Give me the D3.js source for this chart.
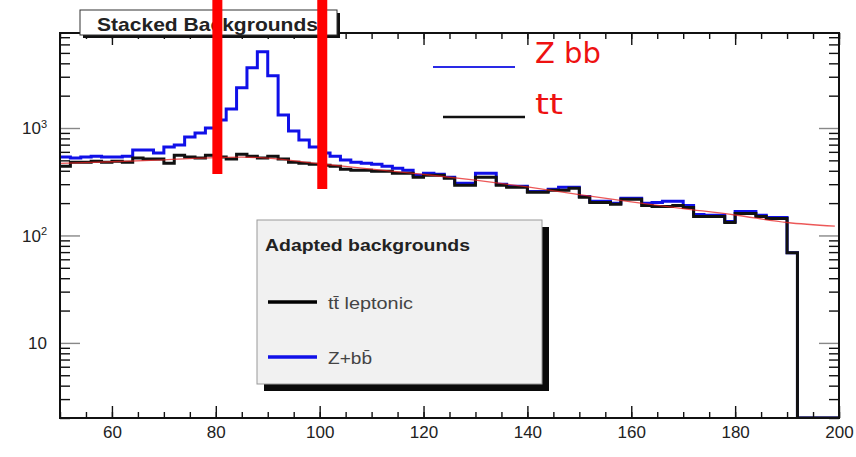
<!DOCTYPE html>
<html>
<head>
<meta charset="utf-8">
<script src="https://cdn.jsdelivr.net/npm/d3@7"></script>
<style>
  html, body { margin: 0; padding: 0; background: #fff; }
  svg { display: block; }
  .axis text { font-family: "Liberation Sans", Arial, sans-serif; fill: #222; }
</style>
</head>
<body>
<svg id="chart" width="856" height="457"></svg>
<script>
// Invariant-mass histogram, 2 GeV bins from 50 to 200
const binLow = d3.range(50, 200, 2);

// t tbar leptonic background per bin
const ttCounts = [
  440, 481, 481, 490, 481, 490, 481, 525, 514, 514,
  471, 559, 536, 525, 559, 536, 514, 571, 547, 525,
  547, 514, 481, 471, 461, 451, 441, 414, 405, 405,
  396, 396, 380, 380, 349, 364, 364, 341, 293, 293,
  349, 349, 293, 281, 281, 252, 252, 263, 263, 275,
  227, 203, 203, 195, 217, 217, 190, 186, 186, 190,
  182, 150, 150, 150, 132, 160, 160, 150, 144, 144,
  69, 0, 0, 0, 0
];

// Z + b bbar background per bin (stacked on top of t tbar)
const zbbCounts = [
  96, 44, 55, 57, 55, 46, 66, 98, 109, 70,
  193, 135, 288, 372, 441, 652, 991, 1795, 3093, 4605,
  2513, 809, 456, 301, 203, 133, 106, 89, 76, 66,
  65, 45, 42, 25, 15, 16, 8, 8, 13, 13,
  31, 31, 6, 6, 6, 5, 5, 6, 18, 6,
  4, 5, 5, 4, 5, 5, 9, 17, 22, 18,
  8, 7, 4, 4, 3, 7, 7, 4, 3, 3,
  0, 0, 0, 0, 0
];

// Fitted t tbar shape (sampled)
const fitMass  = [50, 60, 70, 80, 85, 90, 100, 110, 120, 130, 140, 150, 160, 170, 180, 190, 199.2];
const fitValue = [468, 485, 505, 530, 535, 525, 465, 415, 370, 327, 283, 240, 205, 178, 155, 132, 122];

// Axis ticks
const xMajorTicks = [60, 80, 100, 120, 140, 160, 180, 200];
const xMinorTicks = d3.range(50, 201, 5);
const yMajorTicks = [10, 100, 1000];
const yMinorTicks = [2,3,4,5,6,7,8,9, 20,30,40,50,60,70,80,90, 200,300,400,500,600,700,800,900, 2000,3000,4000,5000,6000,7000];

// Mass window markers
const windowEdges = [80.3, 100.5];
const windowTops = [174, 189];

const legendEntries = [
  { label: "tt\u0304 leptonic", color: "#000", len: 85 },
  { label: "Z+bb\u0304", color: "#1010e8", len: 44 }
];

const svg = d3.select("#chart");
const plot = { left: 60, right: 839, top: 33, bottom: 418 };

const x = d3.scaleLinear().domain([50, 200]).range([plot.left, plot.right]);
const yMin = 2, yMax = 7660;
const y = d3.scaleLog().domain([yMin, yMax]).range([plot.bottom, plot.top]);
const yc = v => y(Math.max(v, yMin));

// stacked table
const table = binLow.map((m, i) => ({ m, tt: ttCounts[i], zbb: zbbCounts[i] }));
const stacked = d3.stack().keys(["tt", "zbb"])(table);

function stepPoints(vals) {
  const pts = binLow.map((m, i) => [m, vals[i]]);
  pts.push([200, vals[vals.length - 1]]);
  return pts;
}
const step = d3.line().x(d => x(d[0])).y(d => yc(d[1])).curve(d3.curveStepAfter);

const g = svg.append("g");
g.append("defs").append("clipPath").attr("id", "plotclip")
  .append("rect").attr("x", plot.left).attr("y", plot.top)
  .attr("width", plot.right - plot.left).attr("height", plot.bottom - plot.top);

const data = g.append("g").attr("clip-path", "url(#plotclip)");

// stack total (Z+bbbar on top)
data.append("path")
  .attr("d", step(stepPoints(stacked[1].map(d => d[1]))))
  .attr("fill", "none").attr("stroke", "#1010e8").attr("stroke-width", 3);

// t tbar
data.append("path")
  .attr("d", step(stepPoints(stacked[0].map(d => d[1]))))
  .attr("fill", "none").attr("stroke", "#111").attr("stroke-width", 3);

// fit curve
data.append("path")
  .attr("d", d3.line().x(d => x(d[0])).y(d => y(d[1])).curve(d3.curveMonotoneX)(fitMass.map((m, i) => [m, fitValue[i]])))
  .attr("fill", "none").attr("stroke", "#e62020").attr("stroke-width", 1.3).attr("opacity", 0.75);

// axes with inward ticks
function styleAxis(sel) {
  sel.select(".domain").remove();
  sel.selectAll(".tick line").attr("stroke", "#111").attr("stroke-width", 1.4);
}
g.append("g").attr("class", "axis").attr("transform", `translate(0,${plot.bottom})`)
  .call(d3.axisBottom(x).tickValues(xMinorTicks).tickSize(-6).tickFormat(""))
  .call(styleAxis);
g.append("g").attr("class", "axis").attr("transform", `translate(0,${plot.bottom})`)
  .call(d3.axisBottom(x).tickValues(xMajorTicks).tickSize(-12).tickPadding(7).tickFormat(d3.format("d")))
  .call(styleAxis)
  .selectAll("text").attr("font-size", 17).attr("dy", "0.75em");
g.append("g").attr("class", "axis").attr("transform", `translate(0,${plot.top})`)
  .call(d3.axisTop(x).tickValues(xMinorTicks).tickSize(-6).tickFormat(""))
  .call(styleAxis);
g.append("g").attr("class", "axis").attr("transform", `translate(0,${plot.top})`)
  .call(d3.axisTop(x).tickValues(xMajorTicks).tickSize(-12).tickFormat(""))
  .call(styleAxis);

g.append("g").attr("class", "axis").attr("transform", `translate(${plot.left},0)`)
  .call(d3.axisLeft(y).tickValues(yMinorTicks).tickSize(-10).tickFormat(""))
  .call(styleAxis);
const yLab = g.append("g").attr("class", "axis").attr("transform", `translate(${plot.left},0)`)
  .call(d3.axisLeft(y).tickValues(yMajorTicks).tickSize(-20).tickPadding(13).tickFormat(""))
  .call(styleAxis);
yLab.selectAll(".tick line").attr("stroke", "#888");
yLab.selectAll(".tick").each(function(d) {
  const t = d3.select(this).select("text").attr("font-size", 17).attr("dy", "0.35em");
  const exp = Math.round(Math.log10(d));
  if (exp === 1) {
    t.text("10");
  } else {
    t.append("tspan").text("10");
    t.append("tspan").text(exp).attr("font-size", 11).attr("dy", "-0.6em");
  }
});
g.append("g").attr("class", "axis").attr("transform", `translate(${plot.right},0)`)
  .call(d3.axisRight(y).tickValues(yMinorTicks).tickSize(-10).tickFormat(""))
  .call(styleAxis);
g.append("g").attr("class", "axis").attr("transform", `translate(${plot.right},0)`)
  .call(d3.axisRight(y).tickValues(yMajorTicks).tickSize(-20).tickFormat(""))
  .call(styleAxis).selectAll(".tick line").attr("stroke", "#888");

// frame
g.append("rect").attr("x", plot.left).attr("y", plot.top)
  .attr("width", plot.right - plot.left).attr("height", plot.bottom - plot.top)
  .attr("fill", "none").attr("stroke", "#111").attr("stroke-width", 2);

// title box
const tb = { x: 80, y: 10, w: 257, h: 25 };
g.append("rect").attr("x", tb.x + 3).attr("y", tb.y + 3).attr("width", tb.w).attr("height", tb.h).attr("fill", "#111");
g.append("rect").attr("x", tb.x).attr("y", tb.y).attr("width", tb.w).attr("height", tb.h)
  .attr("fill", "#fff").attr("stroke", "#333").attr("stroke-width", 1);
g.append("text").attr("x", 97).attr("y", 31)
  .attr("font-family", "Liberation Sans, Arial, sans-serif").attr("font-weight", "bold")
  .attr("font-size", 19).attr("fill", "#222")
  .attr("textLength", 221).attr("lengthAdjust", "spacingAndGlyphs")
  .text("Stacked Backgrounds");

// legend box
const lb = { x: 257, y: 220, w: 285, h: 164 };
g.append("rect").attr("x", lb.x + 7).attr("y", lb.y + 7).attr("width", lb.w).attr("height", lb.h).attr("fill", "#0a0a0a");
g.append("rect").attr("x", lb.x).attr("y", lb.y).attr("width", lb.w).attr("height", lb.h)
  .attr("fill", "#f1f1f1").attr("stroke", "#999").attr("stroke-width", 1);
g.append("text").attr("x", 265).attr("y", 251)
  .attr("font-family", "Liberation Sans, Arial, sans-serif").attr("font-weight", "bold")
  .attr("font-size", 17).attr("fill", "#222")
  .attr("textLength", 205).attr("lengthAdjust", "spacingAndGlyphs")
  .text("Adapted backgrounds");
legendEntries.forEach((e, i) => {
  const ly = 302 + i * 55;
  g.append("line").attr("x1", 268).attr("x2", 317).attr("y1", ly).attr("y2", ly)
    .attr("stroke", e.color).attr("stroke-width", 3.5);
  g.append("text").attr("x", 328).attr("y", ly + 7)
    .attr("font-family", "Liberation Sans, Arial, sans-serif")
    .attr("font-size", 17).attr("fill", "#444")
    .attr("textLength", e.len).attr("lengthAdjust", "spacingAndGlyphs")
    .text(e.label);
});

// annotations
const ann = g.append("g");
ann.append("line").attr("x1", 433).attr("x2", 515).attr("y1", 67).attr("y2", 67)
  .attr("stroke", "#2a2ae6").attr("stroke-width", 2);
ann.append("text").attr("x", 535).attr("y", 63).attr("font-family", "DejaVu Sans, sans-serif")
  .attr("font-size", 29).attr("fill", "#ee1111").text("Z bb");
ann.append("line").attr("x1", 443).attr("x2", 525).attr("y1", 117).attr("y2", 117)
  .attr("stroke", "#111").attr("stroke-width", 2.5);
ann.append("text").attr("x", 535).attr("y", 114).attr("font-family", "DejaVu Sans, sans-serif")
  .attr("font-size", 29).attr("fill", "#ee1111")
  .attr("textLength", 28).attr("lengthAdjust", "spacingAndGlyphs").text("tt");

windowEdges.forEach((m, i) => {
  ann.append("rect").attr("x", x(m) - 5).attr("y", 0).attr("width", 10).attr("height", windowTops[i])
    .attr("fill", "#ff0000");
});
</script>
</body>
</html>
